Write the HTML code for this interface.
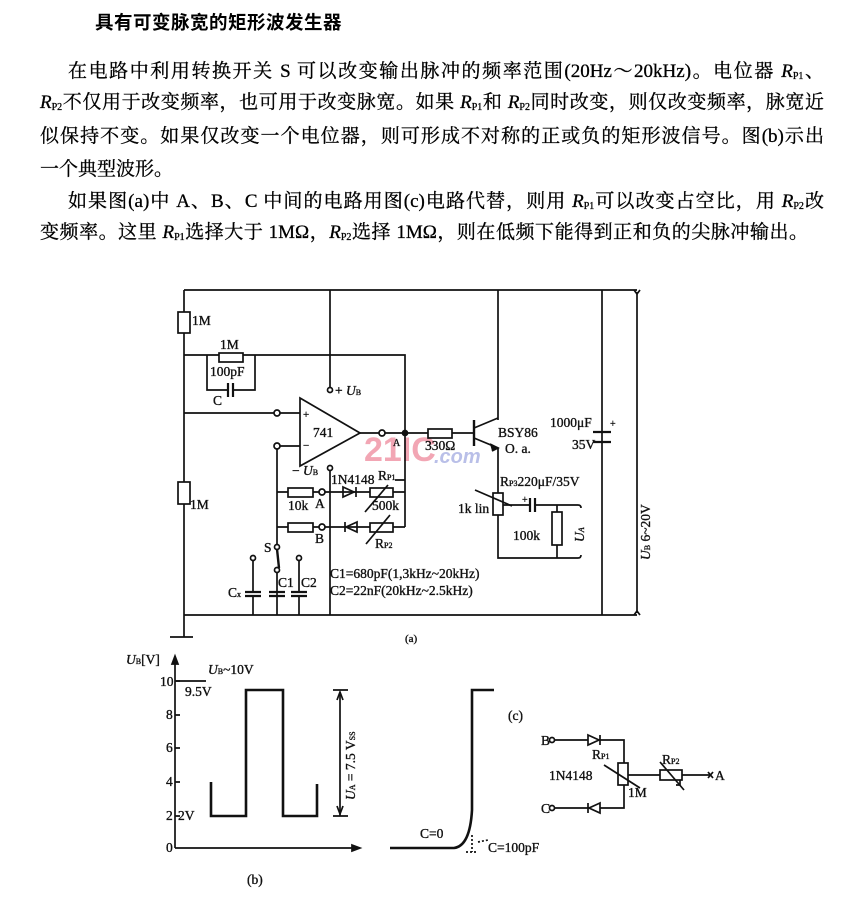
<!DOCTYPE html>
<html><head><meta charset="utf-8">
<style>
html,body{margin:0;padding:0;background:#fff;}
body{width:862px;height:899px;position:relative;overflow:hidden;font-family:"Liberation Serif","Noto Serif CJK SC","Noto Sans CJK SC",serif;color:#000;}
.l{position:absolute;font-size:19px;line-height:22px;white-space:nowrap;-webkit-text-stroke:0.3px #000;}
.j{text-align:justify;text-align-last:justify;white-space:normal;}
.t{position:absolute;left:95px;top:9px;font-size:18.5px;font-weight:bold;font-family:"Noto Sans CJK SC",sans-serif;letter-spacing:0.5px;}
sub{font-size:10px;vertical-align:-2px;}
i{font-style:italic;}
svg{position:absolute;left:0;top:0;}
svg text{font-family:"Liberation Serif",serif;fill:#111;stroke:#111;stroke-width:0.35px;}
</style></head><body>
<div class="t">具有可变脉宽的矩形波发生器</div>
<div class="l j" style="left:68px;top:61px;width:756px;">在电路中利用转换开关 S 可以改变输出脉冲的频率范围(20Hz～20kHz)。电位器 <i>R</i><sub>P1</sub>、</div>
<div class="l j" style="left:40px;top:92px;width:784px;"><i>R</i><sub>P2</sub>不仅用于改变频率，也可用于改变脉宽。如果 <i>R</i><sub>P1</sub>和 <i>R</i><sub>P2</sub>同时改变，则仅改变频率，脉宽近</div>
<div class="l j" style="left:40px;top:126px;width:784px;">似保持不变。如果仅改变一个电位器，则可形成不对称的正或负的矩形波信号。图(b)示出</div>
<div class="l" style="left:40px;top:159px;">一个典型波形。</div>
<div class="l j" style="left:68px;top:191px;width:756px;">如果图(a)中 A、B、C 中间的电路用图(c)电路代替，则用 <i>R</i><sub>P1</sub>可以改变占空比，用 <i>R</i><sub>P2</sub>改</div>
<div class="l j" style="left:40px;top:222px;width:768px;">变频率。这里 <i>R</i><sub>P1</sub>选择大于 1MΩ，<i>R</i><sub>P2</sub>选择 1MΩ，则在低频下能得到正和负的尖脉冲输出。</div>

<svg width="862" height="899" viewBox="0 0 862 899">
<text x="364" y="461" font-size="34" font-weight="bold" style="fill:#f2a6b4;stroke:none;font-family:'Liberation Sans',sans-serif">21IC</text>
<text x="434" y="463" font-size="20" font-weight="bold" font-style="italic" style="fill:#b9bfe8;stroke:none;font-family:'Liberation Sans',sans-serif">.com</text>
<g stroke="#111" stroke-width="1.7" fill="none">
<path d="M184 290H637M184 615H637M184 290V637M170 637H193"/>
<path d="M330 290V390M330 468V615M498 290V420M602 290V615"/>
<path d="M637 292V613"/>
<path d="M634 290l3 4 3-4M634 615l3-4 3 4"/>
<rect x="178" y="312" width="12" height="21" fill="#fff"/>
<rect x="178" y="482" width="12" height="22" fill="#fff"/>
<path d="M184 355H405V433M207 355V390H228M233 390H255V355"/>
<rect x="219" y="353" width="24" height="9" fill="#fff"/>
<path d="M228 383V397M233 383V397" stroke-width="2.2"/>
<path d="M184 413H274M280 413H300"/>
<circle cx="277" cy="413" r="3" fill="#fff"/>
<path d="M280 446H300M277 449V544"/>
<circle cx="277" cy="446" r="3" fill="#fff"/>
<path d="M300 398L360 433L300 466Z" fill="#fff"/>
<circle cx="330" cy="390" r="2.5" fill="#fff"/>
<circle cx="330" cy="468" r="2.5" fill="#fff"/>
<path d="M360 433H379M385 433H428M452 433H474"/>
<circle cx="382" cy="433" r="3" fill="#fff"/>
<circle cx="405" cy="433" r="2.5" fill="#111"/>
<rect x="428" y="429" width="24" height="9" fill="#fff"/>
<path d="M474 420V446" stroke-width="2.4"/>
<path d="M474 428L498 418M474 438L498 448V493"/>
<path d="M490 444l8 4-6 3" fill="#111"/>
<rect x="493" y="493" width="10" height="22" fill="#fff"/>
<path d="M498 515V558H578M475 490L512 506"/>
<path d="M503 505H530M535 505H578M557 505V512M557 545V558"/>
<path d="M530 498V512M535 498V512" stroke-width="2.2"/>
<rect x="552" y="512" width="10" height="33" fill="#fff"/>
<path d="M578 505q3 0 3 3M578 558q3 0 3-3"/>
<path d="M593 432H611M593 442H611" stroke-width="2.2"/>
<path d="M277 492H288M313 492H319M325 492H370M393 492H405M405 433V527M277 527H288M313 527H319M325 527H370M393 527H405M395 480H405"/>
<rect x="288" y="488" width="25" height="9" fill="#fff"/>
<rect x="288" y="523" width="25" height="9" fill="#fff"/>
<circle cx="322" cy="492" r="3" fill="#fff"/>
<circle cx="322" cy="527" r="3" fill="#fff"/>
<path d="M343 487L354 492L343 497Z M356 487V497"/>
<path d="M357 522L346 527L357 532Z M345 522V532"/>
<rect x="370" y="488" width="23" height="9" fill="#fff"/>
<rect x="370" y="523" width="23" height="9" fill="#fff"/>
<path d="M365 512L388 485M366 544L390 515"/>
<circle cx="277" cy="547" r="2.5" fill="#fff"/>
<path d="M277 549L279 568" stroke-width="2.4"/>
<circle cx="277" cy="570" r="2.5" fill="#fff"/>
<path d="M277 573V615M253 561V592M253 596V615M299 561V592M299 596V615"/>
<circle cx="253" cy="558" r="2.5" fill="#fff"/>
<circle cx="299" cy="558" r="2.5" fill="#fff"/>
<path d="M245 592H261M245 596H261M269 592H285M269 596H285M291 592H307M291 596H307" stroke-width="2.2"/>
<path d="M175 848V660M175 848H358"/>
<path d="M172 664l3-8 3 8z M352 845l8 3-8 3z" fill="#111"/>
<path d="M175 681H180M175 715H180M175 748H180M175 782H180M175 816H180"/>
<path d="M176 681H206"/>
<path d="M211 782V816H246V690H283V816H317V784" stroke-width="2.6"/>
<path d="M333 690H348M333 816H348M340 692V816"/>
<path d="M337 700l3-8 3 8M337 806l3 8 3-8"/>
<path d="M390 848H454Q470 846 472 810V690H494" stroke-width="2.6"/>
<path d="M472 835V852M466 852H478M478 842L488 840" stroke-dasharray="2 2"/>
<circle cx="552" cy="740" r="2.5" fill="#fff"/>
<circle cx="552" cy="808" r="2.5" fill="#fff"/>
<path d="M555 740H588M600 740H624V763M624 785V808H600M588 808H555"/>
<path d="M588 735L599 740L588 745Z M600 735V745"/>
<path d="M600 803L589 808L600 813Z M588 803V813"/>
<rect x="618" y="763" width="10" height="22" fill="#fff"/>
<path d="M604 765L640 788M628 775H660M682 775H710M680 775V785H676"/>
<rect x="660" y="770" width="22" height="10" fill="#fff"/>
<path d="M660 762L684 790M708 772l5 6M713 772l-5 6"/>
</g>
<g font-size="13.5">
<text x="192" y="325">1M</text>
<text x="190" y="509">1M</text>
<text x="220" y="349">1M</text>
<text x="210" y="376">100pF</text>
<text x="213" y="405">C</text>
<text x="303" y="418" font-size="11">+</text>
<text x="303" y="449" font-size="11">−</text>
<text x="313" y="437">741</text>
<text x="335" y="395">+ <tspan font-style="italic">U</tspan><tspan font-size="8">B</tspan></text>
<text x="292" y="475">− <tspan font-style="italic">U</tspan><tspan font-size="8">B</tspan></text>
<text x="331" y="484">1N4148</text>
<text x="378" y="480">R<tspan font-size="8">P1</tspan></text>
<text x="288" y="510">10k</text>
<text x="315" y="508">A</text>
<text x="372" y="510">500k</text>
<text x="315" y="543">B</text>
<text x="375" y="548">R<tspan font-size="8">P2</tspan></text>
<text x="264" y="552">S</text>
<text x="228" y="597">C<tspan font-size="8">x</tspan></text>
<text x="278" y="587">C1</text>
<text x="301" y="587">C2</text>
<text x="330" y="578">C1=680pF(1,3kHz~20kHz)</text>
<text x="330" y="595">C2=22nF(20kHz~2.5kHz)</text>
<text x="405" y="642" font-size="11">(a)</text>
<text x="393" y="446" font-size="10">A</text>
<text x="425" y="450">330Ω</text>
<text x="498" y="437">BSY86</text>
<text x="505" y="453">O. a.</text>
<text x="550" y="427">1000μF</text>
<text x="610" y="427" font-size="10">+</text>
<text x="572" y="449">35V</text>
<text x="500" y="486">R<tspan font-size="8">P3</tspan>220μF/35V</text>
<text x="458" y="513">1k lin</text>
<text x="513" y="540">100k</text>
<text x="522" y="503" font-size="10">+</text>
<text transform="translate(584,542) rotate(-90)" font-style="italic">U<tspan font-size="8">A</tspan></text>
<text transform="translate(650,560) rotate(-90)"><tspan font-style="italic">U</tspan><tspan font-size="8">B</tspan> 6~20V</text>
<text x="126" y="664"><tspan font-style="italic">U</tspan><tspan font-size="8">B</tspan>[V]</text>
<text x="208" y="674"><tspan font-style="italic">U</tspan><tspan font-size="8">B</tspan>~10V</text>
<text x="160" y="686">10</text>
<text x="185" y="696">9.5V</text>
<text x="166" y="719">8</text>
<text x="166" y="752">6</text>
<text x="166" y="786">4</text>
<text x="166" y="820">2</text>
<text x="178" y="820">2V</text>
<text x="166" y="852">0</text>
<text transform="translate(355,800) rotate(-90)"><tspan font-style="italic">U</tspan><tspan font-size="8">A</tspan> = 7.5 V<tspan font-size="8">SS</tspan></text>
<text x="420" y="838">C=0</text>
<text x="488" y="852">C=100pF</text>
<text x="508" y="720">(c)</text>
<text x="247" y="884">(b)</text>
<text x="541" y="745">B</text>
<text x="541" y="813">C</text>
<text x="592" y="759">R<tspan font-size="8">P1</tspan></text>
<text x="549" y="780">1N4148</text>
<text x="628" y="797">1M</text>
<text x="662" y="764">R<tspan font-size="8">P2</tspan></text>
<text x="715" y="780">A</text>
</g>
</svg>
</body></html>
